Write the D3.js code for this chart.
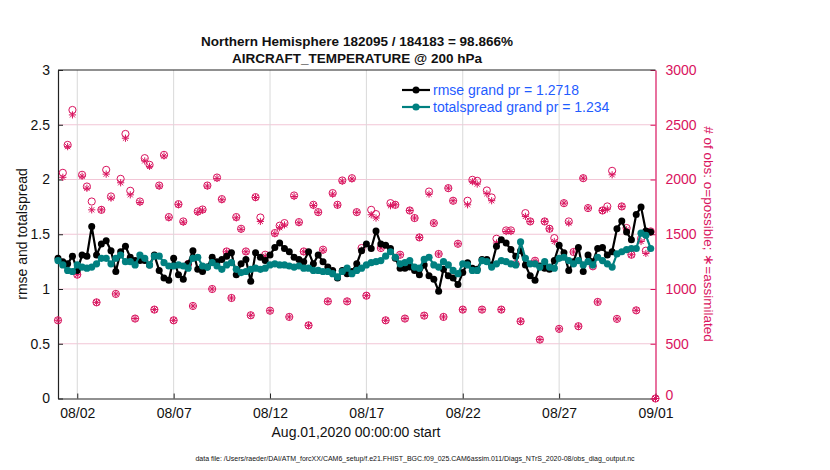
<!DOCTYPE html>
<html>
<head>
<meta charset="utf-8">
<script src="https://cdn.jsdelivr.net/npm/d3@7"></script>
<style>
  body { margin: 0; background: #fff; }
  text { font-family: "Liberation Sans", Arial, Helvetica, sans-serif; }
</style>
</head>
<body>
<script>
// 6-hourly bins, Aug 01 2020 00Z .. Sep 01 2020 00Z
var startTime = Date.UTC(2020, 7, 1);
var binHours = 6;

var rmse = [1.28,1.25,1.23,1.30,1.17,1.31,1.30,1.57,1.31,1.41,1.44,1.35,1.16,1.34,1.39,1.29,1.26,1.26,1.26,1.22,
  1.31,1.17,1.10,1.08,1.28,1.13,1.09,1.23,1.35,1.18,1.16,1.20,1.29,1.25,1.27,1.30,1.33,1.13,1.23,1.27,
  1.07,1.33,1.29,1.26,1.31,1.38,1.42,1.37,1.34,1.29,1.27,1.25,1.34,1.23,1.31,1.25,1.20,1.17,1.10,1.17,
  1.14,1.16,1.23,1.35,1.41,1.37,1.53,1.41,1.40,1.37,1.28,1.19,1.19,1.20,1.17,1.13,1.22,1.12,1.09,0.98,
  1.18,1.12,1.10,1.04,1.15,1.24,1.19,1.18,1.27,1.27,1.22,1.39,1.45,1.42,1.36,1.30,1.35,1.22,1.12,1.08,
  1.21,1.19,1.18,1.26,1.40,1.33,1.17,1.25,1.38,1.16,1.31,1.25,1.37,1.38,1.31,1.34,1.55,1.62,1.52,1.45,
  1.68,1.75,1.53,1.52];

var spread = [1.26,1.22,1.17,1.16,1.22,1.20,1.19,1.20,1.23,1.28,1.28,1.23,1.28,1.31,1.25,1.25,1.22,1.31,1.28,1.22,
  1.30,1.30,1.24,1.21,1.21,1.22,1.21,1.19,1.28,1.29,1.21,1.20,1.24,1.21,1.18,1.22,1.24,1.18,1.15,1.16,
  1.18,1.19,1.18,1.19,1.22,1.23,1.22,1.22,1.21,1.20,1.21,1.19,1.19,1.17,1.17,1.16,1.16,1.14,1.11,1.16,
  1.19,1.14,1.17,1.19,1.22,1.24,1.25,1.26,1.30,1.34,1.29,1.23,1.24,1.26,1.20,1.19,1.27,1.29,1.22,1.20,
  1.25,1.22,1.17,1.14,1.23,1.22,1.17,1.17,1.26,1.25,1.20,1.23,1.26,1.25,1.23,1.22,1.43,1.28,1.23,1.23,
  1.20,1.25,1.20,1.19,1.28,1.29,1.26,1.23,1.26,1.22,1.25,1.22,1.29,1.26,1.23,1.20,1.32,1.34,1.36,1.37,
  1.37,1.51,1.49,1.37];

var nPossible = [714,2061,2316,2635,1131,2043,1936,1799,878,1723,2088,1845,955,2006,2416,1897,730,1799,2195,2134,
  812,1945,2225,1657,714,1775,1617,1228,845,1708,1726,1945,1000,2018,1821,1343,918,1657,1550,1343,
  760,1839,1653,1313,802,1511,1578,1602,745,1854,1611,1343,668,1769,1702,1359,887,1876,1769,1991,
  887,2012,1702,1374,939,1723,1684,1374,714,1784,1769,1313,730,1717,1648,1471,757,1890,1602,1320,
  745,1921,1806,1413,812,1806,1997,1988,812,1900,1836,1459,812,1535,1535,1228,705,1693,1617,1258,
  538,1617,1550,1465,636,1784,1617,1338,660,2012,1739,1207,882,1717,1754,2079,727,1754,1557,1313,
  805,1459,1350,1526,0];

var nAssim = [714,2020,2300,2590,1131,2030,1920,1723,878,1723,2049,1830,955,1970,2377,1860,730,1790,2170,2120,
  812,1940,2215,1650,714,1770,1610,1228,845,1700,1720,1940,1000,2010,1815,1340,918,1650,1545,1340,
  760,1835,1617,1300,802,1505,1560,1585,745,1845,1605,1340,668,1762,1700,1355,887,1866,1765,1985,
  887,2005,1700,1355,939,1678,1648,1374,714,1760,1769,1313,730,1717,1648,1471,757,1866,1602,1320,
  745,1921,1806,1413,812,1769,1980,1958,812,1870,1806,1420,812,1525,1525,1228,705,1663,1617,1258,
  538,1617,1550,1434,636,1784,1602,1338,660,2012,1739,1207,882,1717,1730,2043,727,1754,1541,1313,
  805,1434,1325,1517,0];

var xTickLabels = ["08/02","08/07","08/12","08/17","08/22","08/27","09/01"];
var xTickDays = [2,7,12,17,22,27,32];
var leftTicks = [0,0.5,1,1.5,2,2.5,3];
var rightTicks = [0,500,1000,1500,2000,2500,3000];

var titleLines = ["Northern Hemisphere 182095 / 184183 = 98.866%", "AIRCRAFT_TEMPERATURE @ 200 hPa"];
var legendLabels = ["rmse grand pr = 1.2718", "totalspread grand pr = 1.234"];

var W = 830, H = 470;
var margin = {top: 70, right: 830 - 655.5, bottom: 470 - 398.5, left: 58};
var width = W - margin.left - margin.right;
var height = H - margin.top - margin.bottom;

var pink = "#d9135e";
var teal = "#008080";
var legendBlue = "#1f5cff";

var svg = d3.select("body").append("svg")
    .attr("width", W)
    .attr("height", H);

var g = svg.append("g")
    .attr("transform", "translate(" + margin.left + "," + margin.top + ")");

function timeOf(k) { return new Date(startTime + k * binHours * 3600e3); }
function dayOf(d) { return new Date(startTime + (d - 1) * 864e5); }

var xScale = d3.scaleUtc()
    .domain([new Date(startTime), new Date(Date.UTC(2020, 8, 1))])
    .range([0, width]);
var yScale = d3.scaleLinear().domain([0, 3]).range([height, 0]);
var y2Scale = d3.scaleLinear().domain([0, 3000]).range([height, 0]);

// grid lines
g.selectAll(".hgrid").data(leftTicks.slice(1, -1)).enter().append("line")
    .attr("x1", 0).attr("x2", width)
    .attr("y1", d => yScale(d)).attr("y2", d => yScale(d))
    .attr("stroke", "#f2c6d6").attr("stroke-width", 1);

g.selectAll(".vgrid").data(xTickDays.slice(0, -1)).enter().append("line")
    .attr("x1", d => xScale(dayOf(d)))
    .attr("x2", d => xScale(dayOf(d)))
    .attr("y1", 0).attr("y2", height)
    .attr("stroke", "#d9d9d9").attr("stroke-width", 1);

// axes
var xAxis = d3.axisBottom(xScale)
    .tickValues(xTickDays.map(dayOf))
    .tickFormat((d, i) => xTickLabels[i])
    .tickSizeInner(-5).tickSizeOuter(0).tickPadding(10);
var gx = g.append("g").attr("transform", "translate(0," + height + ")").call(xAxis);

var yAxis = d3.axisLeft(yScale).tickValues(leftTicks).tickFormat(d3.format("")).tickSizeInner(-5).tickSizeOuter(0).tickPadding(8);
var gy = g.append("g").call(yAxis);

var y2Axis = d3.axisRight(y2Scale).tickValues(rightTicks).tickFormat(d3.format("d")).tickSizeInner(-5).tickSizeOuter(0).tickPadding(10);
var gy2 = g.append("g").attr("transform", "translate(" + width + ",0)").call(y2Axis);

[gx, gy].forEach(function(a) {
    a.selectAll("text").attr("font-size", 14).attr("fill", "#111");
    a.selectAll("line").attr("stroke", "#222");
    a.select(".domain").attr("stroke", "#222").attr("stroke-width", 1.2);
});
gy2.selectAll("text").attr("font-size", 14).attr("fill", pink);
gy2.selectAll("text").filter(d => d === 0).attr("dy", "0.1em");
gy2.selectAll("line").attr("stroke", pink);
gy2.select(".domain").attr("stroke", pink).attr("stroke-width", 1.2);

// top border
g.append("line").attr("x1", 0).attr("x2", width).attr("y1", 0).attr("y2", 0)
    .attr("stroke", "#222").attr("stroke-width", 1.2);

// obs counts: o = possible, * = assimilated
var obsIdx = d3.range(nPossible.length);
g.selectAll(".poss").data(obsIdx).enter().append("circle")
    .attr("cx", k => xScale(timeOf(k)))
    .attr("cy", k => y2Scale(nPossible[k]))
    .attr("r", 3.6)
    .attr("fill", "none").attr("stroke", pink).attr("stroke-width", 1);

function starPath(cx, cy, r) {
    var s = "";
    for (var a = 0; a < 4; a++) {
        var ang = a * Math.PI / 4;
        var dx = r * Math.sin(ang), dy = r * Math.cos(ang);
        s += "M" + (cx - dx) + "," + (cy - dy) + "L" + (cx + dx) + "," + (cy + dy);
    }
    return s;
}
g.selectAll(".assim").data(obsIdx).enter().append("path")
    .attr("d", k => starPath(xScale(timeOf(k)), y2Scale(nAssim[k]), 3.6))
    .attr("stroke", pink).attr("stroke-width", 1).attr("fill", "none");

// rmse + spread lines
function drawSeries(values, color, r) {
    var line = d3.line()
        .x((d, k) => xScale(timeOf(k)))
        .y(d => yScale(d));
    g.append("path").datum(values)
        .attr("d", line)
        .attr("fill", "none").attr("stroke", color).attr("stroke-width", 2.2)
        .attr("stroke-linejoin", "round");
    g.selectAll(null).data(values).enter().append("circle")
        .attr("cx", (d, k) => xScale(timeOf(k)))
        .attr("cy", d => yScale(d))
        .attr("r", r)
        .attr("fill", color);
}
drawSeries(rmse, "#000", 3.5);
drawSeries(spread, teal, 3.6);

// legend
var legend = svg.append("g");
[["#000", 3.5], [teal, 3.6]].forEach(function(s, i) {
    var ly = 90 + i * 17;
    legend.append("line").attr("x1", 402).attr("x2", 430).attr("y1", ly).attr("y2", ly)
        .attr("stroke", s[0]).attr("stroke-width", 2.2);
    legend.append("circle").attr("cx", 416).attr("cy", ly).attr("r", s[1]).attr("fill", s[0]);
    legend.append("text").attr("x", 433).attr("y", ly + 5)
        .attr("font-size", 14).attr("fill", legendBlue).text(legendLabels[i]);
});

// titles
svg.selectAll(".title").data(titleLines).enter().append("text")
    .attr("x", 357).attr("y", (d, i) => 46 + i * 17)
    .attr("text-anchor", "middle").attr("font-size", 13.5).attr("font-weight", "bold")
    .attr("fill", "#111").text(d => d);

// axis labels
svg.append("text").attr("x", 356).attr("y", 437).attr("text-anchor", "middle")
    .attr("font-size", 14).attr("fill", "#111").text("Aug.01,2020 00:00:00 start");

svg.append("text").attr("transform", "translate(27,234) rotate(-90)")
    .attr("text-anchor", "middle").attr("font-size", 14).attr("fill", "#111")
    .text("rmse and totalspread");

svg.append("text").attr("transform", "translate(704,234) rotate(90)")
    .attr("text-anchor", "middle").attr("font-size", 13.5).attr("fill", pink)
    .text("# of obs: o=possible; \u2217=assimilated");

svg.append("text").attr("x", 415).attr("y", 461).attr("text-anchor", "middle")
    .attr("font-size", 7).attr("fill", "#111")
    .text("data file: /Users/raeder/DAI/ATM_forcXX/CAM6_setup/f.e21.FHIST_BGC.f09_025.CAM6assim.011/Diags_NTrS_2020-08/obs_diag_output.nc");
</script>
</body>
</html>
